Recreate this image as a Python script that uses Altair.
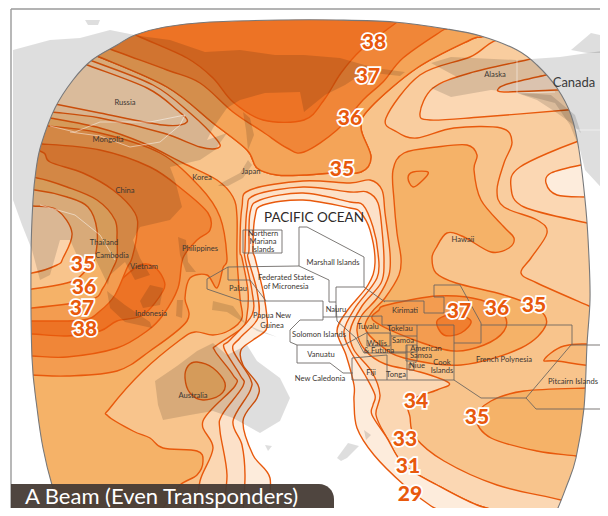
import altair as alt

C38, C37, C36B, C36, C35, C34, C33, C32, C31 = "#ed7325", "#f08638", "#f39a4e", "#f39c50", "#f5b268", "#f8c48c", "#fbd7b3", "#fce1c9", "#fdecdc"
LINE = "#e8590c"

BEAM = [(70,530),(200,540),(400,540),(540,530),(554,516),(567,485),(576,458),(584,408),(587,345),(590,300),(589,258),(586,210),(579,150),(571,115),(557,88),(537,65),(517,50),(481,36),(447,29),(394,22),(337,20),(280,20),(210,22),(165,27),(135,35),(117,45),(92,60),(73,80),(55,108),(41,145),(36,170),(33,200),(31,258),(32,358),(37,408),(43,448),(52,485),(63,516),(70,530)]
MASK_OUT = [(70,560),(70,640),(70,720),(-200,720),(-200,-200),(800,-200),(800,720),(70,720),(70,640),(70,560)]

BASE = [(0,0),(620,0),(620,560),(0,560)]
PJ = [(82,50),(97,56),(167,87),(213,123),(247,150),(257,168),(277,175),(304,175),(331,173),(361,172),(371,157),(361,128),(370,108),(417,68),(470,40),(481,37),(500,30),(620,30),(640,300),(640,560),(150,560),(150,530),(165,505),(180,485),(197,475),(203,461),(197,451),(163,448),(150,438),(133,431),(108,416),(110,408),(143,371),(180,340),(195,332),(213,335),(230,330),(242,318),(240,298),(237,258),(237,217),(233,197),(217,180),(183,163),(143,143),(100,128),(50,118),(30,115),(40,70)]
L4 = [(510,38),(470,57),(420,75),(386,118),(397,132),(417,138),(454,128),(501,128),(512,142),(504,163),(497,190),(504,207),(537,220),(547,233),(531,258),(521,273),(537,283),(589,306),(610,315),(630,200),(600,60)]
R1 = [(600,138),(576,142),(520,167),(511,187),(524,207),(587,223),(605,226),(620,180)]
R2 = [(600,163),(581,165),(551,173),(546,183),(557,195),(586,197),(600,197),(610,180)]
A1 = [(545,55),(531,59),(470,73),(433,88),(420,113),(430,120),(481,117),(567,110),(585,108),(600,80)]
A2 = [(560,72),(546,75),(511,83),(499,88),(504,92),(557,90),(575,90),(580,80)]
TIP = [(600,345),(564,346),(544,360),(557,361),(600,366),(620,355)]
M = [(393,170),(394,200),(397,233),(401,258),(399,275),(385,298),(372,312),(365,328),(380,345),(404,358),(461,365),(521,348),(546,325),(537,308),(504,295),(456,283),(436,273),(432,258),(436,248),(447,233),(464,237),(491,252),(509,248),(514,238),(504,227),(481,200),(474,170),(477,155),(467,145),(437,147),(404,153)]
BLOB = [(408,178),(413,172),(428,172),(423,180),(413,187)]
K2 = [(387,305),(437,296),(481,300),(504,315),(504,331),(484,345),(454,351),(417,341),(374,321),(379,310)]
K3 = [(437,321),(454,314),(471,321),(461,333),(444,335)]
SE35 = [(600,388),(587,388),(524,391),(491,401),(476,418),(491,438),(537,451),(576,456),(600,460),(620,420)]
AUS = [(185,378),(188,366),(197,362),(213,368),(225,383),(220,395),(203,400),(190,393)]

H1 = [(303,181),(350,183),(370,180),(382,190),(385,213),(390,253),(389,275),(378,297),(362,315),(357,331),(365,350),(385,364),(420,372),(449,383),(437,390),(409,401),(410,417),(415,437),(444,461),(497,485),(561,500),(600,512),(600,560),(197,560),(197,516),(200,481),(213,448),(203,421),(235,386),(233,375),(215,351),(217,345),(242,328),(247,315),(248,291),(242,258),(240,250),(242,207),(250,190)]
H2 = [(303,187),(350,192),(367,192),(378,203),(382,230),(384,263),(381,283),(362,306),(350,331),(354,350),(372,372),(380,395),(376,415),(387,438),(404,465),(437,485),(477,505),(517,516),(540,530),(540,560),(222,560),(222,516),(227,475),(220,431),(222,415),(243,386),(240,375),(224,348),(230,340),(252,315),(252,291),(245,258),(245,250),(247,210),(255,195)]
H3 = [(303,193),(350,202),(363,205),(373,227),(378,253),(377,278),(355,308),(344,331),(350,350),(365,375),(375,395),(373,405),(372,415),(387,438),(404,465),(437,485),(477,505),(517,516),(540,530),(540,560),(243,560),(243,516),(245,475),(242,445),(233,421),(250,391),(250,378),(233,350),(240,338),(258,318),(257,291),(248,258),(249,250),(250,213),(260,200)]
H4 = [(303,200),(350,208),(360,212),(370,230),(375,263),(368,285),(347,311),(337,331),(346,355),(354,385),(354,401),(357,428),(374,455),(404,485),(431,506),(451,516),(470,540),(470,560),(267,560),(267,516),(270,478),(253,455),(243,421),(257,398),(258,385),(243,365),(241,350),(253,340),(266,330),(267,318),(263,291),(255,258),(253,250),(255,217),(263,205)]

L3TOP = [(82,50),(97,56),(167,87),(213,123),(247,150),(257,168),(277,175),(304,175),(331,173),(361,172),(371,157),(361,128),(370,108),(417,68),(470,40),(481,37),(500,30),(480,5),(100,5),(75,45)]
L2TOP = [(95,42),(110,49),(167,70),(200,83),(233,112),(263,132),(287,148),(304,152),(337,130),(363,100),(383,82),(403,58),(440,32),(447,29),(460,25),(440,5),(110,5),(90,35)]
L1TOP = [(125,28),(138,36),(187,58),(213,78),(233,102),(263,120),(304,120),(324,100),(341,73),(361,50),(397,22),(405,15),(390,5),(140,5)]
LOBE_C = [(75,52),(90,60),(153,85),(190,113),(217,140),(218,148),(200,147),(163,133),(100,118),(52,112),(35,110),(40,80)]
LOBE_D = [(70,56),(85,64),(147,88),(177,110),(187,122),(163,125),(100,113),(55,104),(38,100),(45,78)]
C5 = [(48,126),(100,133),(160,153),(200,187),(220,217),(227,258),(223,268),(217,288),(207,275),(190,278),(185,298),(187,321),(150,351),(117,371),(67,376),(32,375),(10,375),(10,126)]
C6 = [(42,144),(100,150),(150,167),(183,190),(208,213),(210,230),(197,240),(183,258),(178,288),(163,315),(147,331),(117,348),(67,357),(32,356),(10,356),(10,144)]
INDO = [(163,278),(163,291),(143,315),(117,321),(100,331),(67,336),(32,334),(10,334),(10,310),(100,300),(123,278),(140,265),(153,266)]
LLA = [(42,152),(50,162),(83,173),(113,190),(135,213),(137,233),(132,258),(127,268),(115,295),(100,311),(83,320),(32,321),(10,321),(10,152)]
LLB = [(37,178),(67,187),(97,200),(115,220),(117,240),(117,258),(113,268),(103,288),(90,300),(32,308),(10,308),(10,178)]
LLC = [(35,190),(67,197),(88,207),(97,230),(95,258),(90,265),(73,281),(32,289),(10,289),(10,190)]
LLD = [(33,206),(57,210),(72,233),(63,258),(57,265),(32,273),(10,273),(10,206)]

CONTOURS = [(PJ,C34),(L4,"#f9cd9f"),(R1,C33),(R2,C31),(A1,C33),(A2,C32),(TIP,"#f7bb7c"),(M,C35),(BLOB,"#f4aa5e"),(K2,C36),(K3,"#f07f30"),(SE35,C35),(AUS,C35),
            (H1,C33),(H2,C32),(H3,C31),(H4,"#ffffff"),
            (L3TOP,"#f4a458"),(L2TOP,C37),(L1TOP,C38),(LOBE_C,"#f9cfa6"),(LOBE_D,C33),
            (C5,C36),(C6,C37),(INDO,C38),(LLA,C36),(LLB,C35),(LLC,C34),(LLD,"#fbd3ab")]

ASIA = [(13,50),(50,40),(80,38),(110,30),(140,36),(170,40),(205,52),(240,50),(275,55),(304,55),(340,58),(375,68),(405,72),(400,76),(365,72),(345,85),(325,95),(304,112),(300,92),(265,93),(240,100),(227,108),(213,128),(207,140),(227,133),(215,150),(200,160),(170,167),(175,180),(182,207),(170,220),(140,227),(133,240),(140,258),(150,275),(135,280),(125,262),(110,275),(108,285),(95,258),(80,262),(70,240),(60,240),(50,275),(40,280),(32,250),(22,225),(13,200)]
JAPAN = [(248,160),(240,173),(223,182),(218,186),(228,186),(243,178),(252,165)]
SAKHALIN = [(243,112),(250,118),(254,135),(248,150),(246,130)]
PHIL = [(178,237),(186,240),(188,262),(196,272),(186,272),(180,255)]
BORNEO = [(140,301),(150,285),(163,288),(160,305),(143,308)]
SUMATRA = [(107,291),(125,305),(150,322),(152,328),(125,322),(110,308)]
SULAWESI = [(177,300),(183,300),(182,318),(176,316)]
GUINEA = [(213,301),(233,306),(247,325),(277,337),(257,331),(243,322),(227,312),(212,310)]
AUSTRALIA = [(155,381),(177,366),(197,351),(213,343),(227,355),(247,345),(257,361),(280,378),(290,398),(280,421),(260,433),(233,418),(213,411),(190,415),(163,420),(158,405)]
TASMANIA = [(265,445),(272,446),(268,451)]
NZ_S = [(337,458),(348,443),(359,446),(347,458),(341,461)]
NZ_N = [(364,430),(371,435),(366,440)]
ALASKA = [(431,63),(451,57),(517,60),(517,93),(537,100),(557,113),(571,123),(581,133),(575,115),(551,95),(491,90),(451,97),(431,88),(457,77)]
CANADA = [(517,60),(560,57),(608,50),(608,195),(585,170),(580,150),(570,125),(555,103),(517,93)]
ARCTIC = [(571,50),(591,33),(608,37),(608,53),(587,53)]
ARCTIC_W = [(85,20),(100,20),(98,25),(88,25)]
LANDS = [ASIA,JAPAN,SAKHALIN,PHIL,BORNEO,SUMATRA,SULAWESI,GUINEA,AUSTRALIA,TASMANIA,NZ_S,NZ_N,ALASKA,CANADA,ARCTIC,ARCTIC_W]

BORDERS_WHITE = [[(50,126),(75,132),(100,122),(150,122),(185,115),(180,125),(160,142),(130,147),(100,136),(70,132)],
                 [(517,60),(517,93),(555,92)],[(575,130),(608,130)],[(40,205),(75,215),(100,235),(115,260)]]

FRAME = [[(11,9),(11,516)],[(11,9),(608,9)]]

BOXES = [[(243,230),(282,230),(282,253),(243,253),(243,230)],
 [(299,227),(307,227),(364,257),(364,287),(385,302)],
 [(299,227),(299,266),(329,280),(329,302)],
 [(228,267),(299,266)],[(228,267),(228,280),(250,280),(266,301),(323,301)],
 [(228,267),(207,279),(207,289),(242,301),(266,301)],
 [(323,301),(323,317),(336,317),(336,287),(364,287)],[(329,302),(336,302)],
 [(323,317),(323,320),(300,320),(290,330),(290,342),(297,345),(344,345),(368,332)],
 [(297,345),(297,363),(330,363),(343,373),(353,373)],
 [(336,317),(382,316),(382,325),(454,325),(454,380),(352,380),(352,358)],
 [(336,305),(337,321),(356,338),(364,353),(406,353)],
 [(384,301),(424,301),(424,313),(444,313),(444,297),(434,297),(434,285),(460,285),(481,323),(481,343),(454,343)],
 [(454,380),(481,398),(526,398),(571,345),(607,345)],[(526,398),(536,409),(607,409)],
 [(481,325),(572,325),(572,345)],[(367,333),(367,346),(390,346),(390,333),(367,333)],
 [(387,355),(387,380)],[(407,345),(407,380)],
 [(389,325),(391,336),(417,336),(417,325)],[(391,336),(391,352),(417,352),(417,336)],
 [(406,345),(417,345),(417,361),(406,361),(406,345)],[(409,364),(414,364),(414,370),(409,370),(409,364)],
 [(352,358),(387,355)]]

LABEL_TEXT = ["Russia","Mongolia","China","Korea","Japan","Thailand","Cambodia","Vietnam","Philippines","Indonesia","Australia","Palau","Papua New","Guinea","Northern","Mariana","Islands","Federated States","of Micronesia","Marshall Islands","Nauru","Solomon Islands","Vanuatu","New Caledonia","Tuvalu","Kirimati","Tokelau","Samoa","Wallis","& Futuna","American","Samoa","Niue","Fiji","Tonga","Cook","Islands","French Polynesia","Pitcairn Islands","Hawaii","Alaska"]
LABEL_X = [125,108,125,202,251,104,112,144,200,151,193,238,272,272,263,263,263,286,286,333,336,319,321,320,368,405,400,403,377,379,426,421,417,371,396,442,442,504,573,463,495]
LABEL_Y = [103,140,191,178,172,243,256,267,249,314,396,289,316,326,234,242,250,278,287,263,310,335,355,379,327,311,329,341,344,351,349,356,366,373,375,363,371,360,382,240,75]
NUM_TEXT = ["38","37","36","35","35","36","37","38","37","36","35","34","35","33","31","29"]
NUM_X = [374,368,350,342,83,84,82,85,459,497,534,416,477,405,408,410]
NUM_Y = [43,77,119,170,265,288,309,330,312,309,306,402,418,440,467,495]

X = alt.X("x:Q", scale=alt.Scale(domain=[8, 600], nice=False, zero=False), axis=None)
Y = alt.Y("y:Q", scale=alt.Scale(domain=[508, 8], nice=False, zero=False), axis=None)


def rows(pts):
    return [{"x": p[0], "y": p[1], "i": i} for i, p in enumerate(pts)]


def shape(pts, interp="cardinal-closed", **kw):
    return alt.Chart(alt.Data(values=rows(pts))).mark_line(interpolate=interp, clip=True, **kw).encode(
        x=X, y=Y, order=alt.Order("i:Q"))


def multi(lines, **kw):
    data = [{"x": p[0], "y": p[1], "i": i, "g": g} for g, line in enumerate(lines) for i, p in enumerate(line)]
    return alt.Chart(alt.Data(values=data)).mark_line(clip=True, **kw).encode(
        x=X, y=Y, order=alt.Order("i:Q"), detail="g:N")


layers = [shape(BASE, "linear-closed", fill=C35, strokeWidth=0)]
for pts, col in CONTOURS:
    layers.append(shape(pts, fill=col, stroke=LINE, strokeWidth=1.4))
layers.append(shape(BEAM + MASK_OUT, "cardinal", fill="#ffffff", strokeWidth=0))
for land in LANDS:
    layers.append(shape(land, "linear-closed", fill="#000000", fillOpacity=0.13, strokeWidth=0))
layers.append(multi(BORDERS_WHITE, stroke="#ffffff", strokeWidth=0.7, opacity=0.7))
layers.append(shape(BEAM, "cardinal", stroke="#77787a", strokeWidth=1.1))
layers.append(multi(FRAME, stroke="#9a9a9a", strokeWidth=1.4))
layers.append(multi(BOXES, stroke="#66625e", strokeWidth=0.85))

label_rows = [{"t": t, "x": x, "y": y} for t, x, y in zip(LABEL_TEXT, LABEL_X, LABEL_Y)]
layers.append(alt.Chart(alt.Data(values=label_rows)).mark_text(font="Lato", fontSize=7.6, color="#3d3733", align="center", baseline="middle").encode(x=X, y=Y, text="t:N"))
layers.append(alt.Chart(alt.Data(values=[{"t": "PACIFIC OCEAN", "x": 314, "y": 218}])).mark_text(font="Lato", fontSize=13.5, color="#2e2a28", align="center", baseline="middle").encode(x=X, y=Y, text="t:N"))
layers.append(alt.Chart(alt.Data(values=[{"t": "Canada", "x": 574, "y": 83}])).mark_text(font="Lato", fontSize=13, color="#3a3a3a", align="center", baseline="middle").encode(x=X, y=Y, text="t:N"))

num_rows = [{"t": t, "x": x, "y": y} for t, x, y in zip(NUM_TEXT, NUM_X, NUM_Y)]
layers.append(alt.Chart(alt.Data(values=num_rows)).mark_text(font="Lato", fontSize=21, fontWeight=900, color="#ffffff", stroke="#ffffff", strokeWidth=3.5, align="center", baseline="middle").encode(x=X, y=Y, text="t:N"))
layers.append(alt.Chart(alt.Data(values=num_rows)).mark_text(font="Lato", fontSize=21, fontWeight=900, color="#e8590c", align="center", baseline="middle").encode(x=X, y=Y, text="t:N"))

TITLE_BOX = [{"x": 11, "x2": 334, "y": 484, "y2": 530}]
layers.append(alt.Chart(alt.Data(values=TITLE_BOX)).mark_rect(color="#463b35", opacity=0.95, cornerRadiusTopRight=15, cornerRadiusBottomRight=15, clip=True).encode(x=X, x2="x2:Q", y=Y, y2="y2:Q"))
layers.append(alt.Chart(alt.Data(values=[{"t": "A Beam (Even Transponders)", "x": 25, "y": 497}])).mark_text(font="Lato", fontSize=22, color="#ffffff", align="left", baseline="middle").encode(x=X, y=Y, text="t:N"))

chart = alt.layer(*layers).properties(width=592, height=500, padding=0, autosize=alt.AutoSizeParams(type="none"), background="#ffffff").configure_view(stroke=None)
chart.save("out.html", embed_options={"renderer": "svg", "actions": False})
